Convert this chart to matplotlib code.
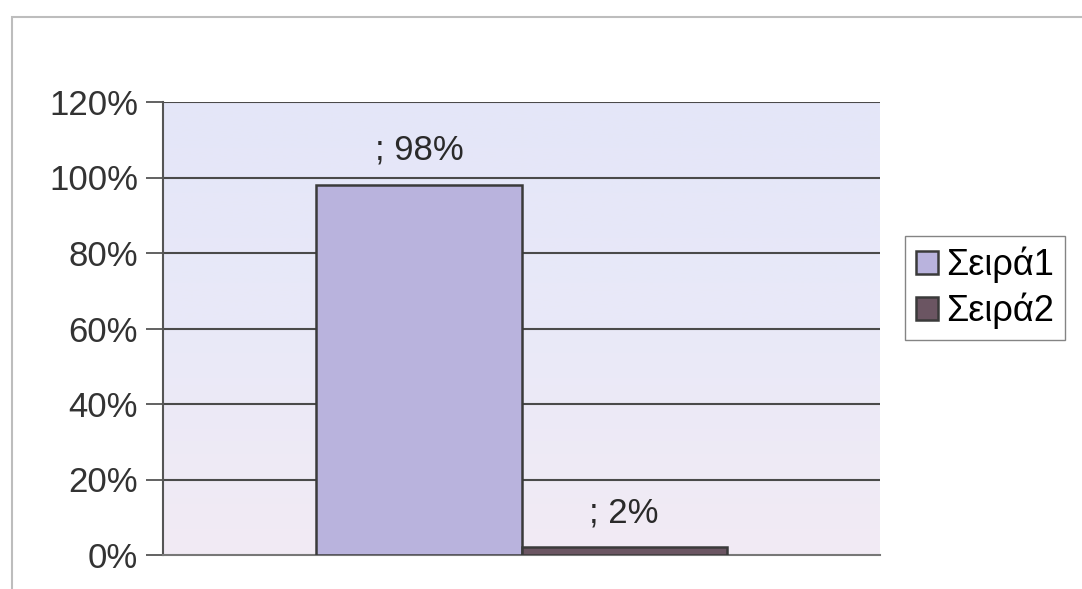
import numpy as np
import matplotlib.pyplot as plt
from matplotlib.colors import LinearSegmentedColormap
from matplotlib.patches import Rectangle

# Two series in one category, shares in percent
series_names = ['Σειρά1', 'Σειρά2']
series_values = [98, 2]
value_labels = ['; 98%', '; 2%']
ytick_values = [0, 20, 40, 60, 80, 100, 120]

plt.rcParams['font.family'] = ['Liberation Sans', 'DejaVu Sans']

fig = plt.figure(figsize=(10.82, 5.89), dpi=100)
fig.patch.set_facecolor('white')

# outer chart frame
fig.patches.append(Rectangle((12 / 1082, -0.05), 1.1, 1 - 17 / 589 + 0.05,
                             transform=fig.transFigure, fill=False,
                             edgecolor='#bdbdbd', linewidth=1.5))

ax = fig.add_axes([163 / 1082, 1 - 555 / 589, 717 / 1082, 453 / 589])

# soft blue-to-pink gradient behind the bars
cmap = LinearSegmentedColormap.from_list('bg', ['#e4e6f8', '#e9e9f8', '#f2ebf4'])
grad = np.linspace(0, 1, 256).reshape(-1, 1)
ax.imshow(grad, cmap=cmap, aspect='auto', extent=[-0.5, 0.5, 0, 120],
          origin='upper', zorder=0)

colors = ['#b9b3dd', '#6b5562']
width = 0.286
offsets = [-width / 2, width / 2]
for name, val, off, col, lab in zip(series_names, series_values, offsets,
                                    colors, value_labels):
    ax.bar(off, val, width=width, color=col, edgecolor='#3a3a3a',
           linewidth=1.8, label=name, zorder=3)
    ax.annotate(lab, xy=(off, val), xytext=(0, 25), textcoords='offset points',
                ha='center', va='center', fontsize=25, color='#2a2a2a',
                zorder=4)

ax.set_xlim(-0.5, 0.5)
ax.set_ylim(0, 120)
ax.set_yticks(ytick_values)
ax.set_yticklabels(['%d%%' % v for v in ytick_values], fontsize=25,
                   color='#333333')
ax.set_xticks([])
for y in ytick_values[1:]:
    ax.axhline(y, color='#4a4a4a', linewidth=1.5, zorder=1)

ax.tick_params(axis='y', length=12, width=1.3, color='#555555', pad=6)
ax.spines['top'].set_visible(False)
ax.spines['right'].set_visible(False)
ax.spines['left'].set_color('#555555')
ax.spines['left'].set_linewidth(1.5)
ax.spines['bottom'].set_color('#777777')
ax.spines['bottom'].set_linewidth(1.5)

leg = fig.legend(loc='center left', bbox_to_anchor=(905 / 1082, 1 - 288 / 589),
                 fontsize=26, frameon=True, fancybox=False, handlelength=0.6,
                 handleheight=0.6, handletextpad=0.25, borderpad=0.3,
                 labelspacing=0.25, borderaxespad=0)
leg.get_frame().set_edgecolor('#666666')
leg.get_frame().set_linewidth(1.0)

fig.savefig('out.png', dpi=100)
